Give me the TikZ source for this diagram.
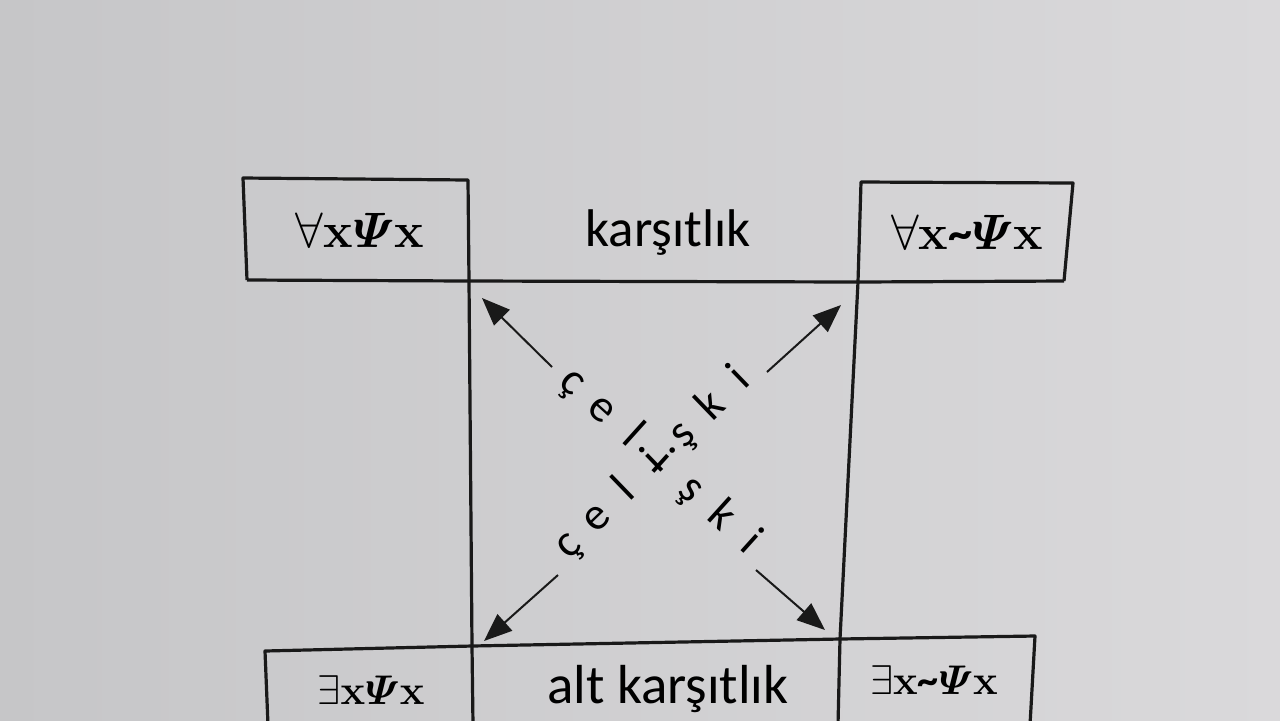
\documentclass[tikz,border=0pt]{standalone}
\usepackage{amsmath}
\usepackage[no-math]{fontspec}
\setmainfont{Carlito}
\usetikzlibrary{arrows.meta}
\newcommand{\diagletter}[1]{\makebox[20pt]{#1}}
\newcommand{\tildeop}{\mbox{\bfseries\textasciitilde}}

\begin{document}
\begin{tikzpicture}[x=0.5pt,y=-0.5pt,line join=round]
% Colors
\colorlet{framecolor}{black!90}
\definecolor{screenleft}{RGB}{198,198,200}
\definecolor{screenmid}{RGB}{232,231,232}
\definecolor{screenright}{RGB}{218,217,219}
% Styles
\tikzstyle{grid line}=[line width=1.6pt,framecolor]
\tikzstyle{top formula}=[font=\fontsize{24}{28}\selectfont]
\tikzstyle{low formula}=[font=\fontsize{21}{25}\selectfont]
\tikzstyle{top label}=[font=\fontsize{26.5}{31}\selectfont]
\tikzstyle{low label}=[font=\fontsize{27.5}{32}\selectfont]
\tikzstyle{diagonal}=[font=\fontsize{23}{27}\selectfont,inner sep=0pt,text height=0.7em,text depth=0.2em]
\tikzstyle{contra arrow}=[line width=1pt,framecolor,-{Triangle[length=14pt,width=11pt]}]
% The screen
\useasboundingbox (0,0) rectangle (1280,720);
\clip (0,0) rectangle (1280,720);
\shade[left color=screenleft,middle color=screenmid,right color=screenright] (0,0) rectangle (1280,720);
% Corners of the table
\coordinate (tl nw) at (243,178);
\coordinate (tl ne) at (468,180);
\coordinate (tr nw) at (861,182);
\coordinate (tr ne) at (1073,183);
\coordinate (row w) at (247,280);
\coordinate (sq nw) at (469,281);
\coordinate (sq ne) at (858,282);
\coordinate (row e) at (1064,281);
\coordinate (low w) at (265,651);
\coordinate (sq sw) at (472,646);
\coordinate (sq se) at (840,639);
\coordinate (low e) at (1035,636);
\coordinate (foot 1) at (268,725);
\coordinate (foot 2) at (473,725);
\coordinate (foot 3) at (838,725);
\coordinate (foot 4) at (1030,725);
% The graphic
\draw[grid line] (row w) -- (tl nw) -- (tl ne) -- (sq nw) -- (sq sw) -- (foot 2);
\draw[grid line] (row w) -- (sq nw) -- (sq ne) -- (row e);
\draw[grid line] (row e) -- (tr ne) -- (tr nw) -- (sq ne) -- (sq se) -- (foot 3);
\draw[grid line] (foot 1) -- (low w) -- (sq sw) -- (sq se) -- (low e) -- (foot 4);
\node[top formula] (all psi) at (360,230) {$\forall\mathbf{x}\boldsymbol{\varPsi}\mathbf{x}$};
\node[top label] (contrary) at (668,233) {karşıtlık};
\node[top formula] (all not psi) at (967,232) {$\forall\mathbf{x}\tildeop\boldsymbol{\varPsi}\mathbf{x}$};
\node[low formula] (some psi) at (371,690) {$\exists\mathbf{x}\boldsymbol{\varPsi}\mathbf{x}$};
\node[low label] (subcontrary) at (668,689) {alt karşıtlık};
\node[low formula] (some not psi) at (934,680) {$\exists\mathbf{x}\tildeop\boldsymbol{\varPsi}\mathbf{x}$};
% Diagonals
\node[diagonal,rotate=-42] (fall word) at (657,468)
  {\diagletter{ç}\diagletter{e}\diagletter{l}\diagletter{i}\diagletter{ş}\diagletter{k}\diagletter{i}};
\node[diagonal,rotate=44] (rise word) at (659,467)
  {\diagletter{ç}\diagletter{e}\diagletter{l}\diagletter{i}\diagletter{ş}\diagletter{k}\diagletter{i}};
\coordinate (tail nw) at (552,367);
\coordinate (tip nw) at (482,298);
\coordinate (tail ne) at (767,372);
\coordinate (tip ne) at (841,305);
\coordinate (tail sw) at (558,575);
\coordinate (tip sw) at (484,641);
\coordinate (tail se) at (756,570);
\coordinate (tip se) at (825,630);
\draw[contra arrow] (tail nw) -- (tip nw);
\draw[contra arrow] (tail ne) -- (tip ne);
\draw[contra arrow] (tail sw) -- (tip sw);
\draw[contra arrow] (tail se) -- (tip se);
\end{tikzpicture}
\end{document}
